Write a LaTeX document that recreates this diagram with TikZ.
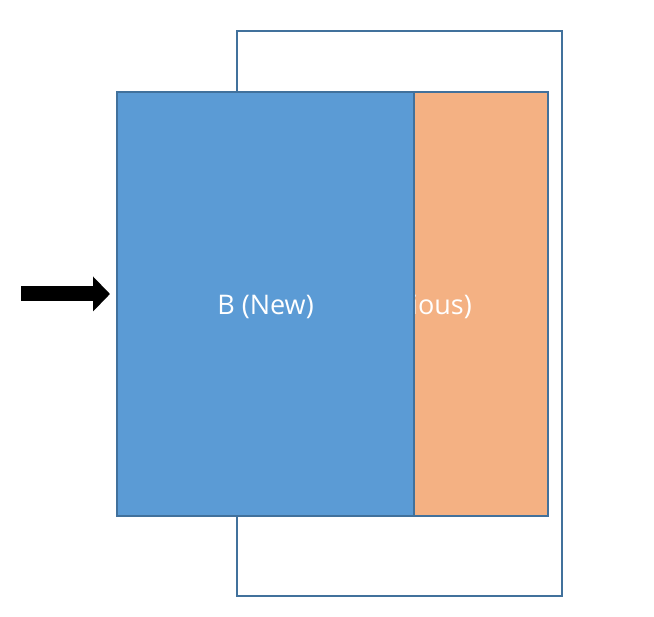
\documentclass[tikz,border=0pt]{standalone}
\usepackage{fontspec}
\setmainfont{Open Sans}
\usetikzlibrary{arrows.meta}
\definecolor{boxline}{HTML}{41719C}
\definecolor{bluefill}{HTML}{5B9BD5}
\definecolor{orangefill}{HTML}{F4B183}
\tikzset{
  panel/.style={draw=boxline, line width=2pt, inner sep=0pt, outer sep=0pt},
  paneltext/.style={label={[text=white, font=\fontsize{27}{32}\selectfont, yshift=-3pt]center:#1}},
}
\begin{document}
\begin{tikzpicture}[x=1pt,y=1pt]
\useasboundingbox (0,0) rectangle (654,617);
% outer frame
\node[panel, fill=white, minimum width=325pt, minimum height=565pt] (outer) at (399.5,303.5) {};
% orange (previous) panel
\node[panel, fill=orangefill, minimum width=300pt, minimum height=424pt, paneltext={A (Previous)}] (prev) at (398,313) {};
% blue (new) panel on top
\node[panel, fill=bluefill, minimum width=297pt, minimum height=424pt, paneltext={B (New)}] (new) at (265.5,313) {};
% arrow
\coordinate (src) at (21,323);
\draw[line width=15pt, -{Triangle[length=17pt,width=34pt]}, shorten >=7pt] (src) -- (src -| new.west);
\end{tikzpicture}
\end{document}
